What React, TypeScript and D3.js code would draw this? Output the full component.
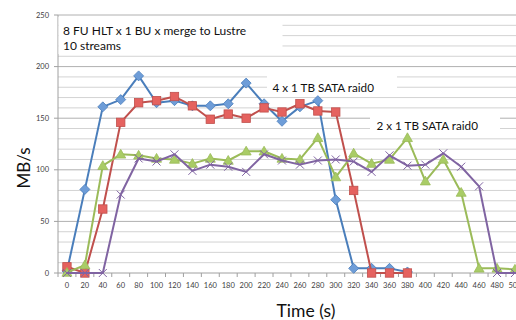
import React from "react";
import * as d3 from "d3";

const categories = ["0","20","40","60","80","100","120","140","160","180","200","220","240","260","280","300","320","340","360","380","400","420","440","460","480","500"];
const yTicks = [0, 50, 100, 150, 200, 250];

const blueVals: (number | null)[] = [2, 81, 161, 168, 191, 165, 167, 162, 162, 164, 184, 164, 147, 161, 167, 71, 4.5, 4.5, 4.5, 1, null, null, null, null, null, null];
const redVals: (number | null)[] = [6, 0, 62, 146, 165, 167, 171, 162, 149, 154, 150, 160, 156, 164, 157, 156, 80, 0, 0, 0, null, null, null, null, null, null];
const greenVals: (number | null)[] = [0.5, 7.7, 104, 115, 114, 111, 110, 106, 111, 109, 118, 118, 111, 110, 131, 93, 116, 106, 110, 131, 89, 110, 78, 4.5, 4.5, 3.5];
const purpleVals: (number | null)[] = [0, 0, 0, 76, 111, 108, 115, 99, 105, 103, 98, 115, 109, 105, 109, 110, 108, 98, 114, 104, 105, 116, 103, 84, 0, 0];

const titleLines = ["8 FU HLT x 1 BU x merge to Lustre", "10 streams"];
const label4 = "4 x 1 TB SATA raid0";
const label2 = "2 x 1 TB SATA raid0";

const FONT = "Lato, 'Open Sans', sans-serif";

export default function App() {
  const x = d3.scaleBand<string>().domain(categories).range([58, 523.9]);
  const y = d3.scaleLinear().domain([0, 250]).range([273, 15]);
  const cx = (i: number) => (x(categories[i]) as number) + x.bandwidth() / 2;

  const minor = d3.range(10, 251, 10).filter((v) => v % 50 !== 0);
  const line = d3
    .line<number | null>()
    .defined((d) => d !== null)
    .x((_, i) => cx(i))
    .y((d) => y(d as number));

  const series = [
    { vals: blueVals, stroke: "#4A7EBB", fill: "#6E9DD8", marker: "diamond" },
    { vals: redVals, stroke: "#C0504D", fill: "#E5625F", marker: "square" },
    { vals: greenVals, stroke: "#9BBB59", fill: "#A9CC66", marker: "triangle" },
    { vals: purpleVals, stroke: "#8064A2", fill: "none", marker: "x" },
  ];

  const markerEl = (m: string, px: number, py: number, s: any, key: string) => {
    if (m === "diamond") {
      const r = 5;
      return <path key={key} d={`M${px},${py - r}L${px + r},${py}L${px},${py + r}L${px - r},${py}Z`} fill={s.fill} stroke={s.stroke} strokeWidth={0.8} />;
    }
    if (m === "square") {
      const r = 4.2;
      return <rect key={key} x={px - r} y={py - r} width={2 * r} height={2 * r} fill={s.fill} stroke={s.stroke} strokeWidth={0.8} />;
    }
    if (m === "triangle") {
      const r = 5;
      return <path key={key} d={`M${px},${py - r}L${px + r},${py + r * 0.75}L${px - r},${py + r * 0.75}Z`} fill={s.fill} stroke={s.stroke} strokeWidth={0.8} />;
    }
    const r = 4;
    return <path key={key} d={`M${px - r},${py - r}L${px + r},${py + r}M${px - r},${py + r}L${px + r},${py - r}`} stroke={s.stroke} strokeWidth={1} fill="none" />;
  };

  return (
    <svg width={516} height={320} style={{ position: "fixed", left: 0, top: 0, background: "#fff" }} fontFamily={FONT}>
      <rect x={0} y={0} width={516} height={320} fill="#fff" />
      {/* gridlines */}
      {minor.map((v) => (
        <line key={"m" + v} x1={58} x2={516} y1={y(v)} y2={y(v)} stroke="#d3d3d3" strokeWidth={1} />
      ))}
      {yTicks.slice(1).map((v) => (
        <line key={"M" + v} x1={58} x2={516} y1={y(v)} y2={y(v)} stroke="#b0b0b0" strokeWidth={1} />
      ))}
      {/* y axis */}
      <line x1={58} x2={58} y1={y(250)} y2={273} stroke="#a0a0a0" strokeWidth={1} />
      {yTicks.map((v) => (
        <g key={"yt" + v}>
          <line x1={54} x2={58} y1={y(v)} y2={y(v)} stroke="#a0a0a0" />
          <text x={49} y={y(v)} dy="0.35em" textAnchor="end" fontSize={7.5} fill="#404040">{v}</text>
        </g>
      ))}
      {/* x axis */}
      <line x1={58} x2={516} y1={273} y2={273} stroke="#a0a0a0" strokeWidth={1} />
      {categories.map((c, i) => (
        <g key={"xt" + c}>
          <line x1={x(c) as number} x2={x(c) as number} y1={273} y2={277} stroke="#a0a0a0" />
          <text x={cx(i)} y={288} textAnchor="middle" fontSize={7.5} fill="#404040">{c}</text>
        </g>
      ))}
      {/* text boxes */}
      <rect x={58.5} y={17} width={224} height={37} fill="#fff" />
      {titleLines.map((t, i) => (
        <text key={t} x={63} y={35 + i * 14.5} fontSize={12} fill="#111">{t}</text>
      ))}
      <rect x={267} y={76} width={130} height={21} fill="#fff" />
      <text x={272.5} y={92} fontSize={11.7} fill="#111">{label4}</text>
      <rect x={370} y={115} width={130} height={20} fill="#fff" />
      <text x={376.5} y={130} fontSize={11.7} fill="#111">{label2}</text>
      {/* series */}
      {series.map((s, si) => (
        <g key={"s" + si}>
          <path d={line(s.vals) || ""} fill="none" stroke={s.stroke} strokeWidth={2} strokeLinejoin="round" />
          {s.vals.map((v, i) => (v === null ? null : markerEl(s.marker, cx(i), y(v), s, `m${si}-${i}`)))}
        </g>
      ))}
      {/* axis titles */}
      <text transform={`translate(30,168) rotate(-90)`} textAnchor="middle" fontSize={17} fill="#111">MB/s</text>
      <text x={306} y={317} textAnchor="middle" fontSize={17.5} fill="#111">Time (s)</text>
    </svg>
  );
}
